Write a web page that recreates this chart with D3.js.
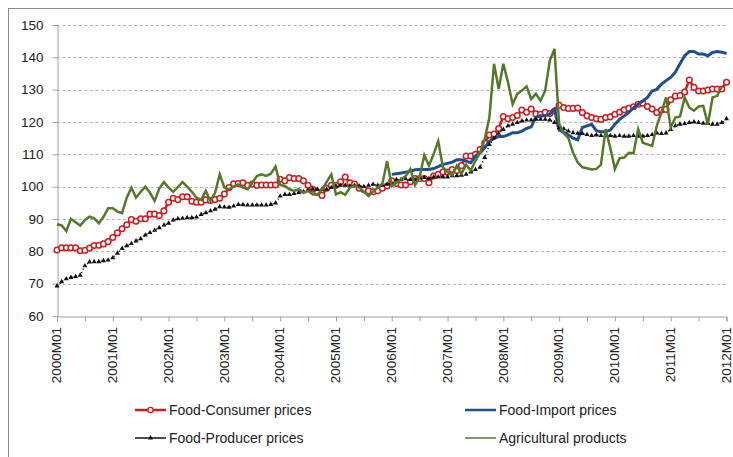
<!DOCTYPE html>
<html>
<head>
<meta charset="utf-8">
<script src="https://cdn.jsdelivr.net/npm/d3@7"></script>
<style>
  body { margin: 0; background: #fff; }
  text { font-family: "Liberation Sans", Arial, sans-serif; fill: #222; }
</style>
</head>
<body>
<div id="chart"></div>
<script>
// x tick labels (one per year, monthly data 2000M01..2012M01)
var yearLabels = ["2000M01","2001M01","2002M01","2003M01","2004M01","2005M01","2006M01",
                  "2007M01","2008M01","2009M01","2010M01","2011M01","2012M01"];
var yTicks = [60, 70, 80, 90, 100, 110, 120, 130, 140, 150];

// Food-Consumer prices, 2000M01 .. 2012M01
var consumer = [
  80.4, 81.1, 81.1, 81.1, 81.1, 80.2, 80.3, 81.0, 81.8, 81.9, 82.3, 83.0,
  84.3, 85.7, 87.0, 88.2, 89.8, 89.3, 90.1, 90.1, 91.5, 91.5, 91.1, 92.5,
  95.2, 96.4, 96.0, 96.9, 96.9, 95.5, 95.2, 95.2, 95.9, 95.7, 96.0, 96.4,
  97.7, 99.7, 100.9, 101.0, 101.2, 100.4, 100.8, 100.4, 100.5, 100.5, 100.5, 100.5,
  102.3, 101.8, 102.8, 102.5, 102.5, 101.8, 100.4, 99.2, 98.2, 97.3, 99.5, 100.4,
  100.4, 101.5, 103.0, 101.2, 100.8, 99.5, 99.1, 98.7, 98.4, 98.7, 99.5, 100.2,
  101.8, 101.0, 100.5, 100.5, 101.5, 102.5, 102.5, 102.5, 101.2, 103.3, 103.8, 104.5,
  104.5, 105.3, 105.0, 106.5, 109.5, 109.5, 110.0, 111.5, 113.5, 116.0, 116.3, 118.0,
  121.7, 121.0, 121.4, 122.0, 123.7, 123.0, 124.0, 122.5, 122.4, 123.0, 122.6, 123.4,
  125.2, 124.5, 124.2, 124.2, 124.3, 122.9, 121.9, 121.4, 121.0, 120.8, 121.4, 121.6,
  122.4, 123.0, 123.8, 124.2, 124.7, 125.5, 125.8, 124.8, 124.0, 122.9, 123.7, 123.9,
  126.9, 128.0, 128.2, 129.3, 133.0, 130.7, 129.6, 129.6, 129.9, 130.2, 130.2, 130.2,
  132.3
];

// Food-Import prices, available from 2006M01
var importFrom2006 = [
  103.8, 104.0, 104.2, 104.5, 104.8, 105.2, 105.3, 105.3, 105.3, 105.6, 106.2, 106.9,
  107.2, 107.6, 108.3, 108.3, 107.9, 107.4, 109.5, 110.5, 112.0, 114.0, 115.0, 115.5,
  115.5, 116.0, 116.7, 116.7, 117.2, 118.0, 118.5, 121.5, 121.9, 121.9, 122.5, 124.0,
  117.5, 116.8, 116.0, 115.0, 114.5, 118.3, 118.8, 119.3, 117.3, 117.0, 117.0, 117.5,
  119.3, 120.8, 121.9, 123.0, 124.4, 125.5, 126.5, 127.6, 129.6, 130.1, 131.7, 132.8,
  133.8, 135.4, 138.0, 140.5, 141.8, 141.8, 141.0, 141.0, 140.5, 141.5, 141.8, 141.6,
  141.2
];

// Food-Producer prices, 2000M01 .. 2012M01
var producer = [
  69.3, 70.6, 71.5, 71.9, 72.2, 72.6, 75.5, 76.7, 76.8, 76.8, 77.1, 77.3,
  78.0, 79.4, 80.9, 81.7, 82.4, 83.2, 83.9, 85.0, 85.8, 86.5, 87.3, 88.1,
  88.7, 89.7, 90.1, 90.2, 90.4, 90.4, 90.6, 91.4, 91.9, 92.5, 93.0, 93.8,
  93.7, 93.6, 94.0, 94.5, 94.4, 94.3, 94.3, 94.3, 94.3, 94.3, 94.5, 94.9,
  97.1, 97.6, 97.6, 97.9, 98.2, 98.4, 99.0, 99.2, 99.2, 99.2, 99.2, 99.7,
  100.2, 100.4, 100.4, 100.2, 100.4, 100.2, 100.0, 100.4, 100.7, 100.4, 100.4, 100.7,
  101.0, 102.2, 102.2, 102.4, 102.2, 102.2, 102.7, 102.8, 102.5, 103.0, 103.0, 103.0,
  103.0, 103.4, 103.4, 103.5, 103.8, 104.5, 105.3, 106.0, 109.0, 113.0, 115.0, 116.5,
  117.7, 118.8, 119.3, 119.8, 120.3, 120.6, 120.6, 120.8, 120.8, 120.8, 120.6, 119.8,
  118.2, 117.9, 117.2, 116.7, 116.5, 116.4, 116.1, 115.8, 116.0, 115.8, 115.7, 115.8,
  115.6, 115.8, 115.6, 115.6, 115.8, 115.6, 115.6, 115.8, 116.1, 116.6, 116.4, 116.6,
  117.7, 118.8, 119.3, 119.5, 119.8, 120.0, 119.8, 119.6, 119.6, 119.3, 119.3, 119.8,
  121.0
];

// Agricultural products, 2000M01 .. 2011M12
var agricultural = [
  88.4, 88.0, 86.3, 90.0, 89.0, 88.0, 89.7, 90.7, 90.2, 88.7, 90.7, 93.3,
  93.3, 92.3, 91.8, 96.6, 99.7, 96.6, 98.4, 100.0, 98.1, 95.6, 99.4, 101.4,
  99.7, 98.4, 99.9, 101.4, 100.0, 98.4, 96.6, 95.9, 98.7, 95.6, 98.1, 103.8,
  99.7, 99.2, 100.0, 100.7, 99.7, 99.2, 101.2, 103.3, 103.8, 103.3, 104.0, 106.2,
  100.5, 100.2, 99.2, 98.7, 99.2, 98.1, 98.7, 97.6, 97.6, 99.0, 101.5, 103.8,
  97.6, 98.3, 97.5, 99.7, 100.2, 99.7, 98.5, 97.1, 98.5, 99.7, 101.0, 107.9,
  100.2, 101.2, 102.3, 103.3, 105.4, 100.5, 103.0, 109.8, 106.5, 110.0, 114.1, 106.0,
  104.5, 103.5, 106.5, 104.0, 106.8, 105.0, 108.0, 110.5, 114.7, 121.4, 138.0, 130.2,
  138.0, 132.3, 125.5, 128.7, 129.7, 131.0, 127.1, 128.7, 126.6, 129.7, 139.0, 142.6,
  119.5, 116.5, 115.0, 110.5, 107.5, 106.0, 105.7, 105.3, 105.5, 106.8, 117.8, 112.0,
  105.5, 108.8, 109.0, 110.5, 110.3, 117.8, 113.6, 113.1, 112.6, 118.8, 123.0, 127.6,
  118.3, 121.4, 121.7, 127.6, 124.5, 123.5, 124.8, 125.0, 119.3, 127.6, 128.1, 131.0
];

var importPrices = new Array(72).fill(null).concat(importFrom2006);

var width = 733, height = 457;
var svg = d3.select("#chart").append("svg")
    .attr("width", width)
    .attr("height", height);

svg.append("rect")
    .attr("x", 8.5).attr("y", 8.5)
    .attr("width", 740).attr("height", 460)
    .attr("fill", "#fff")
    .attr("stroke", "#8c8c8c");

var x = d3.scaleLinear().domain([0, 144]).range([57, 726.5]);
var y = d3.scaleLinear().domain([60, 150]).range([316, 25]);

// grid lines
svg.append("g")
    .selectAll("line")
    .data(yTicks.filter(function(d) { return d > 60; }))
    .enter().append("line")
    .attr("x1", x(0)).attr("x2", x(144))
    .attr("y1", function(d) { return Math.round(y(d)) + 0.5; })
    .attr("y2", function(d) { return Math.round(y(d)) + 0.5; })
    .attr("stroke", "#b5b5b5")
    .attr("stroke-dasharray", "3,2.5");

// y axis
var yAxis = svg.append("g")
    .attr("transform", "translate(" + (x(0) + 0.5) + ",0)")
    .call(d3.axisLeft(y).tickValues(yTicks).tickSize(5).tickPadding(9));
yAxis.select(".domain").attr("stroke", "#a0a0a0");
yAxis.selectAll(".tick line").attr("stroke", "#a0a0a0");
yAxis.selectAll("text")
    .style("font-family", "'Liberation Sans', Arial, sans-serif")
    .style("font-size", "13.5px")
    .attr("fill", "#222");

// x axis, ticks every six months, labels each January
var xAxis = svg.append("g")
    .attr("transform", "translate(0," + (y(60) + 0.5) + ")")
    .call(d3.axisBottom(x).tickValues(d3.range(0, 145, 6)).tickSize(5).tickFormat(""));
xAxis.select(".domain").attr("stroke", "#a0a0a0");
xAxis.selectAll(".tick line").attr("stroke", "#a0a0a0");

svg.append("g")
    .selectAll("text")
    .data(yearLabels)
    .enter().append("text")
    .attr("transform", function(d, i) {
      return "translate(" + (x(i * 12) - 0.5) + "," + (y(60) + 11) + ") rotate(-90)";
    })
    .attr("text-anchor", "end")
    .attr("dy", "0.35em")
    .style("font-size", "13.5px")
    .text(function(d) { return d; });

var line = d3.line()
    .defined(function(d) { return d != null; })
    .x(function(d, i) { return x(i); })
    .y(function(d) { return y(d); });

// consumer prices
svg.append("path")
    .datum(consumer)
    .attr("d", line)
    .attr("fill", "none")
    .attr("stroke", "#d01c1c")
    .attr("stroke-width", 2.5);
svg.append("g")
    .selectAll("circle")
    .data(consumer)
    .enter().append("circle")
    .attr("cx", function(d, i) { return x(i); })
    .attr("cy", function(d) { return y(d); })
    .attr("r", 2.8)
    .attr("fill", "#fff")
    .attr("stroke", "#d01c1c")
    .attr("stroke-width", 1.5);

// import prices
svg.append("path")
    .datum(importPrices)
    .attr("d", line)
    .attr("fill", "none")
    .attr("stroke", "#1f4f8f")
    .attr("stroke-width", 3);

// producer prices
svg.append("path")
    .datum(producer)
    .attr("d", line)
    .attr("fill", "none")
    .attr("stroke", "#111")
    .attr("stroke-width", 1.5)
    .attr("stroke-dasharray", "1,2.6");
var tri = d3.symbol().type(d3.symbolTriangle).size(11);
svg.append("g")
    .selectAll("path")
    .data(producer)
    .enter().append("path")
    .attr("d", tri)
    .attr("transform", function(d, i) { return "translate(" + x(i) + "," + y(d) + ")"; })
    .attr("fill", "#111");

// agricultural products
svg.append("path")
    .datum(agricultural)
    .attr("d", line)
    .attr("fill", "none")
    .attr("stroke", "#55792a")
    .attr("stroke-width", 2.5);

// legend
var legend = [
  {name: "Food-Consumer prices", color: "#d01c1c", lx: 135, ly: 410, mark: "circle", w: 2.5},
  {name: "Food-Import prices", color: "#1f4f8f", lx: 465, ly: 410, mark: null, w: 2.5},
  {name: "Food-Producer prices", color: "#111", lx: 135, ly: 438, mark: "tri", w: 1.5},
  {name: "Agricultural products", color: "#55792a", lx: 465, ly: 438, mark: null, w: 1.5}
];
var lg = svg.append("g").selectAll("g").data(legend).enter().append("g");
lg.append("line")
    .attr("x1", function(d) { return d.lx; })
    .attr("x2", function(d) { return d.lx + 31; })
    .attr("y1", function(d) { return d.ly; })
    .attr("y2", function(d) { return d.ly; })
    .attr("stroke", function(d) { return d.color; })
    .attr("stroke-width", function(d) { return d.w; });
lg.filter(function(d) { return d.mark === "circle"; }).append("circle")
    .attr("cx", function(d) { return d.lx + 15.5; })
    .attr("cy", function(d) { return d.ly; })
    .attr("r", 2.6)
    .attr("fill", "#fff")
    .attr("stroke", function(d) { return d.color; })
    .attr("stroke-width", 1.3);
lg.filter(function(d) { return d.mark === "tri"; }).append("path")
    .attr("d", tri)
    .attr("transform", function(d) { return "translate(" + (d.lx + 15.5) + "," + d.ly + ")"; })
    .attr("fill", "#111");
lg.append("text")
    .attr("x", function(d) { return d.lx + 34; })
    .attr("y", function(d) { return d.ly; })
    .attr("dy", "0.35em")
    .style("font-size", "14px")
    .text(function(d) { return d.name; });
</script>
</body>
</html>
